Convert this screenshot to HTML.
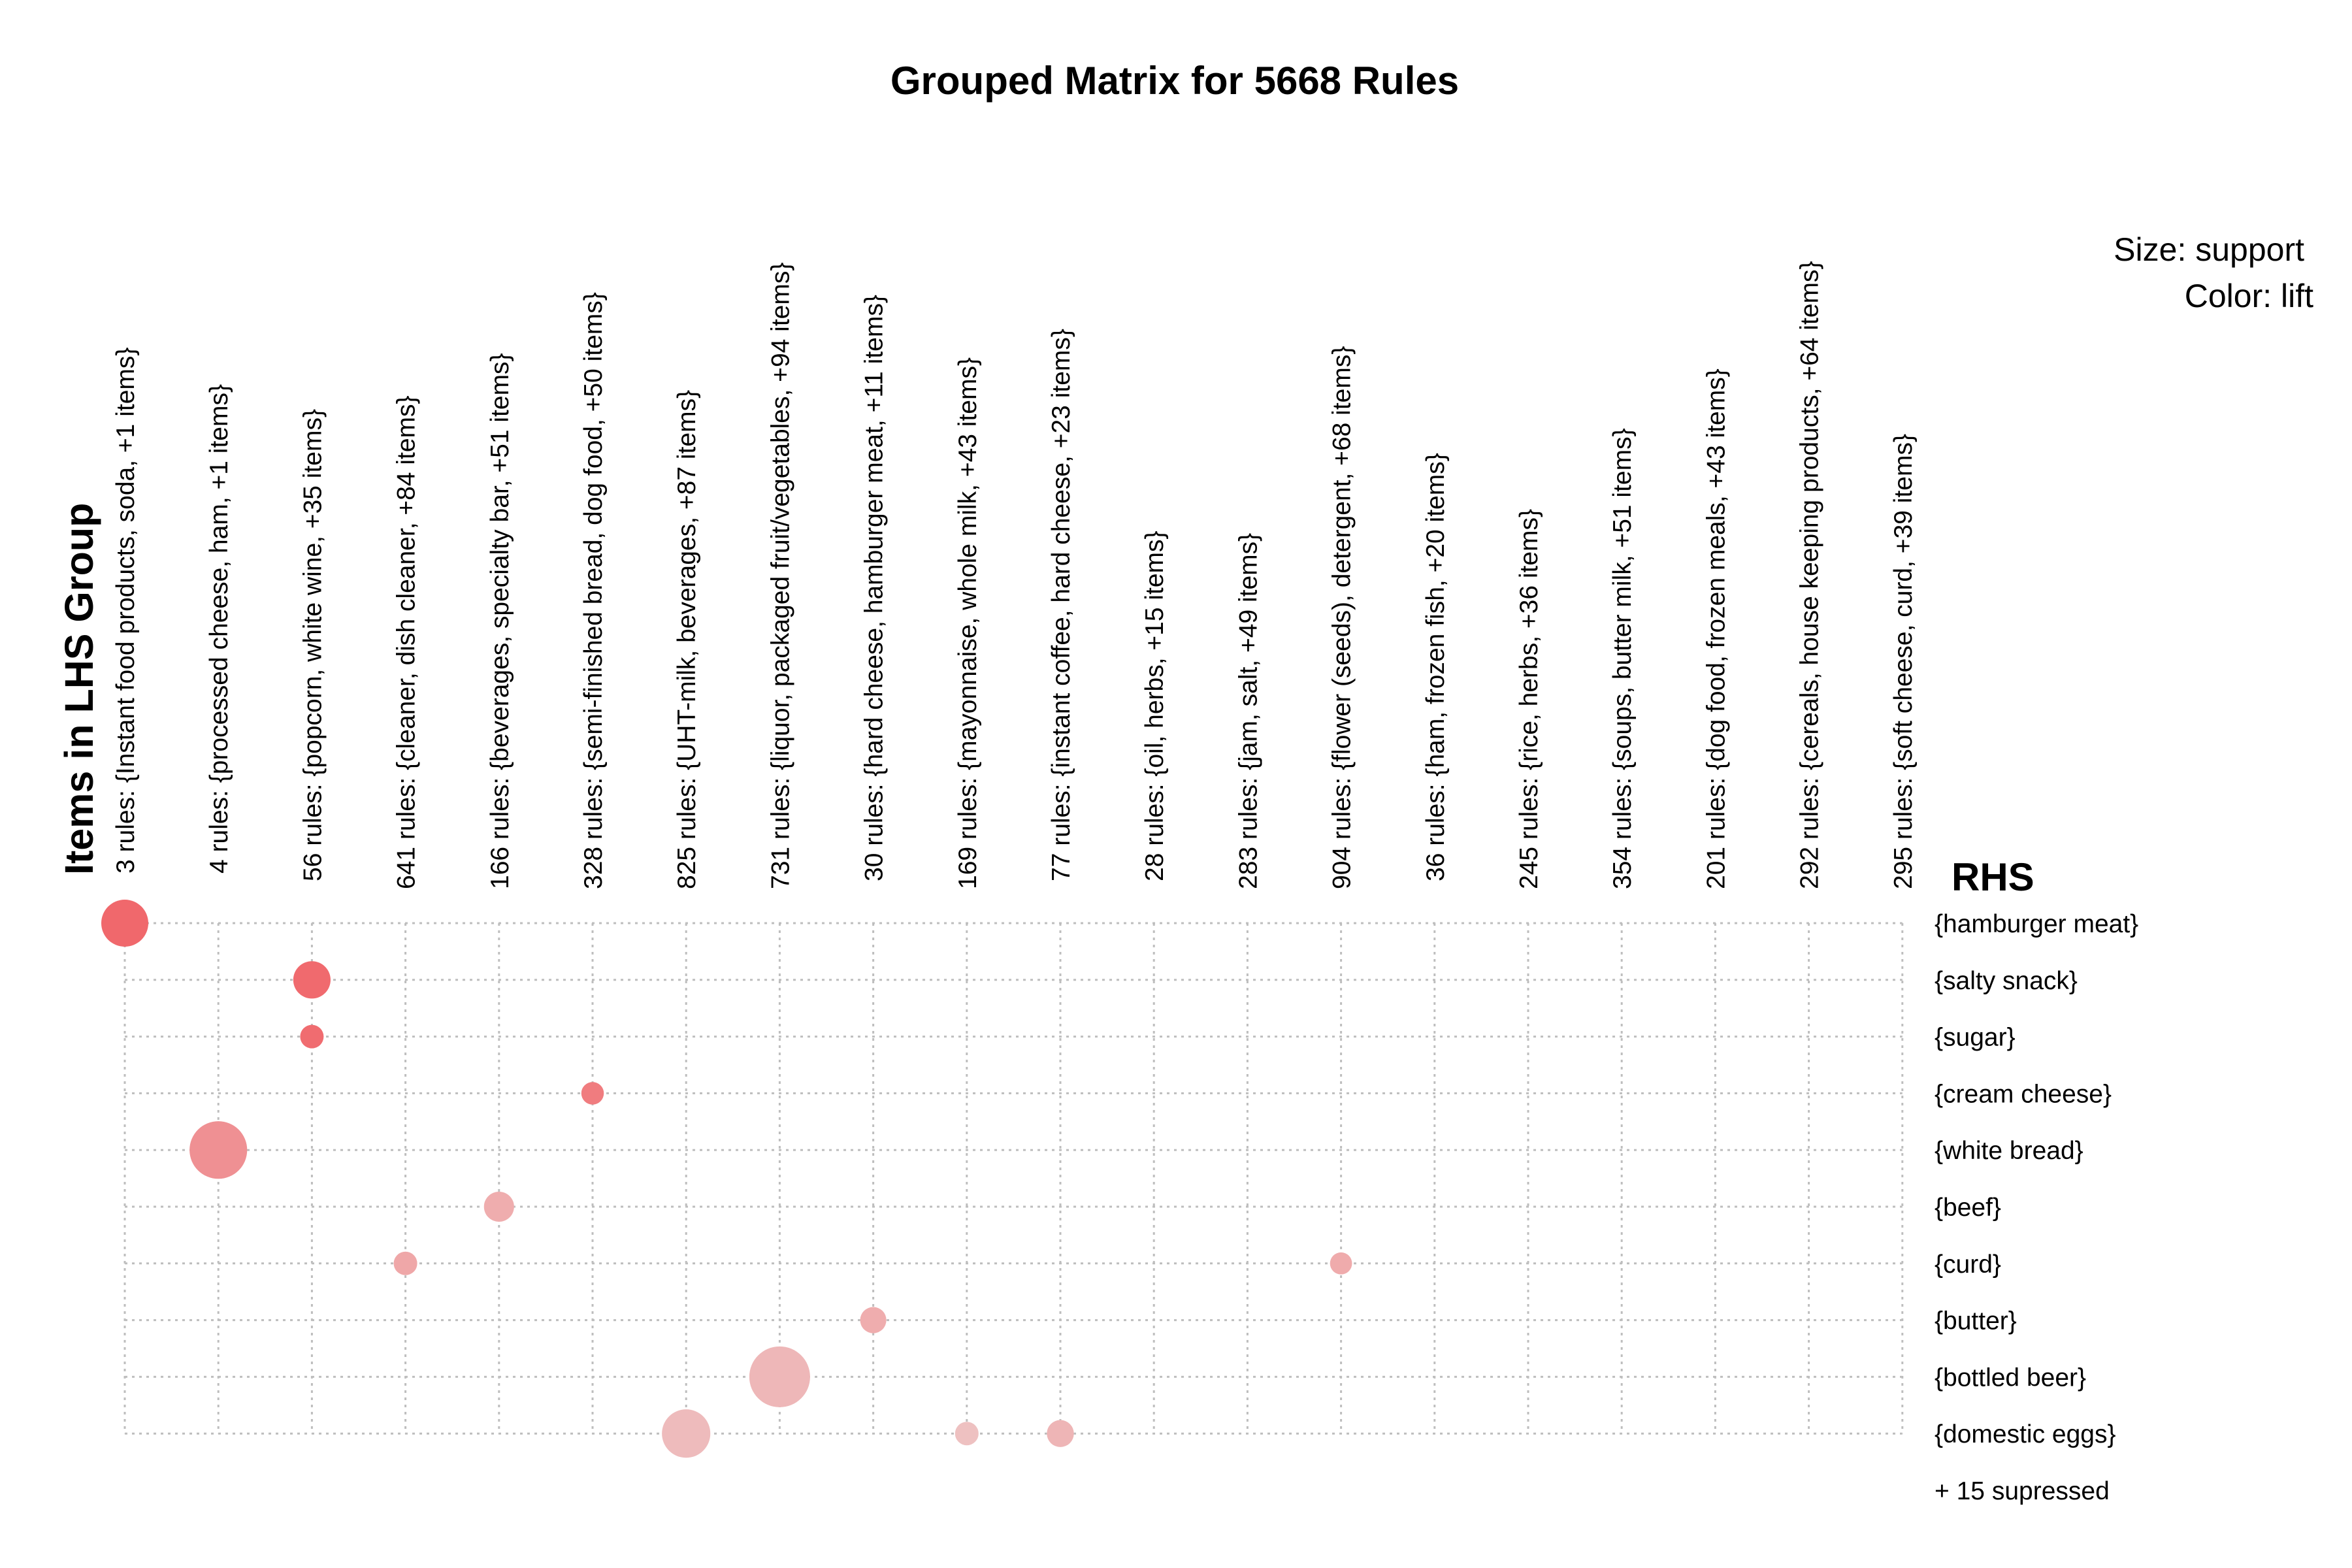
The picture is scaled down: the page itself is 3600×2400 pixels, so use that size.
<!DOCTYPE html>
<html><head><meta charset="utf-8"><style>
html,body{margin:0;padding:0;background:#fff;}
svg{display:block;font-family:"Liberation Sans",Arial,sans-serif;}
</style></head><body>
<svg id="chart" width="3600" height="2400" viewBox="0 0 3600 2400" xmlns="http://www.w3.org/2000/svg">
<rect width="3600" height="2400" fill="#fff"/>
<text x="1798" y="144" font-size="60" font-weight="bold" text-anchor="middle">Grouped Matrix for 5668 Rules</text>
<text x="3527" y="399" font-size="50" text-anchor="end">Size: support</text>
<text x="3541" y="470" font-size="50" text-anchor="end">Color: lift</text>
<text transform="translate(142,1339) rotate(-90)" font-size="61" font-weight="bold">Items in LHS Group</text>
<text x="2987" y="1363" font-size="60" font-weight="bold">RHS</text>
<g id="grid"></g>
<g id="collabels"></g>
<g id="rowlabels"></g>
<g id="bubbles"></g>
</svg>
<script>
const lhsCounts = [3,4,56,641,166,328,825,731,30,169,77,28,283,904,36,245,354,201,292,295];
const lhsItems = ["{Instant food products, soda, +1 items}","{processed cheese, ham, +1 items}","{popcorn, white wine, +35 items}","{cleaner, dish cleaner, +84 items}","{beverages, specialty bar, +51 items}","{semi-finished bread, dog food, +50 items}","{UHT-milk, beverages, +87 items}","{liquor, packaged fruit/vegetables, +94 items}","{hard cheese, hamburger meat, +11 items}","{mayonnaise, whole milk, +43 items}","{instant coffee, hard cheese, +23 items}","{oil, herbs, +15 items}","{jam, salt, +49 items}","{flower (seeds), detergent, +68 items}","{ham, frozen fish, +20 items}","{rice, herbs, +36 items}","{soups, butter milk, +51 items}","{dog food, frozen meals, +43 items}","{cereals, house keeping products, +64 items}","{soft cheese, curd, +39 items}"];
const rhsItems = ["{hamburger meat}","{salty snack}","{sugar}","{cream cheese}","{white bread}","{beef}","{curd}","{butter}","{bottled beer}","{domestic eggs}"];
const pointCol = [0,2,2,5,1,4,3,13,8,7,6,9,10];
const pointRow = [0,1,2,3,4,5,6,6,7,8,9,9,9];
const pointSupport = [0.0100,0.0063,0.0025,0.0023,0.0150,0.0041,0.0025,0.0022,0.0031,0.0167,0.0106,0.0025,0.0033];
const pointLift = [4.0,3.95,3.9,3.5,3.0,2.3,2.45,2.35,2.3,2.05,1.95,1.8,2.1];

const NS="http://www.w3.org/2000/svg";
const X0=191, DX=143.2, Y0=1413, DY=86.8;
function xPos(c){return X0+c*DX;}
function yPos(r){return Y0+r*DY;}
function rScale(s){return 36*Math.sqrt(s/0.0100);}
function colorScale(l){
  const t=Math.max(0,Math.min(1,(l-1.5)/(4.0-1.5)));
  const r=Math.round(238+t*2), g=Math.round(205-t*101), b=Math.round(205-t*97);
  return "rgb("+r+","+g+","+b+")";
}
function mk(tag,attrs,parent){const e=document.createElementNS(NS,tag);for(const k in attrs)e.setAttribute(k,attrs[k]);parent.appendChild(e);return e;}

const grid=document.getElementById('grid');
const nC=lhsCounts.length, nR=rhsItems.length;
for(let r=0;r<nR;r++){
  const l=mk('line',{x1:xPos(0),x2:xPos(nC-1),y1:yPos(r),y2:yPos(r),stroke:'#bebebe','stroke-width':3,'stroke-dasharray':'4 7'},grid);
  
  
}
for(let c=0;c<nC;c++){
  const l=mk('line',{x1:xPos(c),x2:xPos(c),y1:yPos(0),y2:yPos(nR-1),stroke:'#bebebe','stroke-width':3,'stroke-dasharray':'4 7'},grid);
  
  
}
const cl=document.getElementById('collabels');
for(let c=0;c<nC;c++){
  const digits=String(lhsCounts[c]).length;
  const y0=1349+(digits-2)*12;
  const t=mk('text',{transform:'translate('+(xPos(c)+14)+','+y0+') rotate(-90)','font-size':39},cl);
  t.textContent=lhsCounts[c]+" rules: "+lhsItems[c];
  
  
}
const rl=document.getElementById('rowlabels');
for(let r=0;r<=nR;r++){
  const t=mk('text',{x:2961,y:yPos(r)+14,'font-size':39},rl);
  t.textContent = r<nR ? rhsItems[r] : "+ 15 supressed";
  
  
}
const bg=document.getElementById('bubbles');
for(let i=0;i<pointCol.length;i++){
  const c=mk('circle',{cx:xPos(pointCol[i]),cy:yPos(pointRow[i]),r:rScale(pointSupport[i]),fill:colorScale(pointLift[i])},bg);
  
  
}
</script>
</body></html>
